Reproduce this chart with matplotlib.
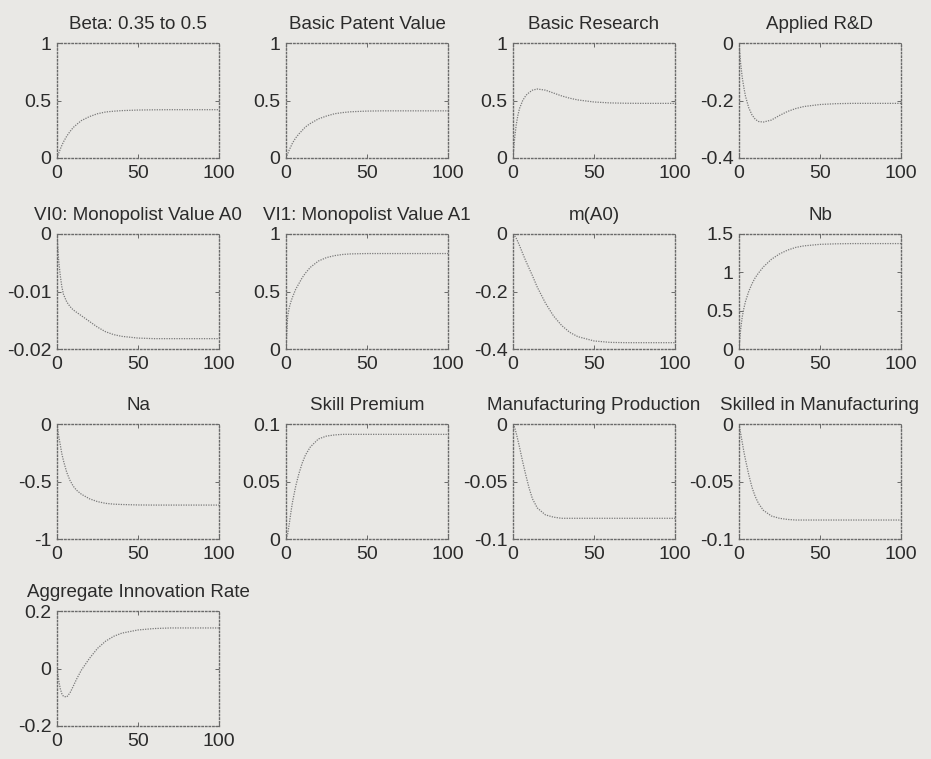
import matplotlib
matplotlib.use("Agg")
import matplotlib.pyplot as plt

plt.rcParams["font.family"] = ["Liberation Sans", "DejaVu Sans"]

# quarters after the shock
t = [0, 1, 2, 3, 4, 6, 8, 10, 12, 15, 20, 25, 30, 35, 40, 50, 60, 70, 80, 90, 100]

beta = [0, 0.04, 0.076, 0.11, 0.14, 0.19, 0.23, 0.265, 0.29, 0.325, 0.36, 0.385,
        0.40, 0.407, 0.412, 0.417, 0.419, 0.42, 0.42, 0.42, 0.42]
patent_value = [0, 0.035, 0.07, 0.10, 0.13, 0.175, 0.21, 0.24, 0.27, 0.30, 0.34, 0.365,
                0.385, 0.395, 0.402, 0.408, 0.41, 0.41, 0.41, 0.41, 0.41]
basic_research = [0, 0.17, 0.29, 0.37, 0.43, 0.50, 0.545, 0.57, 0.59, 0.60, 0.59, 0.565,
                  0.54, 0.52, 0.505, 0.487, 0.479, 0.476, 0.475, 0.475, 0.475]
applied_rd = [0, -0.07, -0.12, -0.155, -0.185, -0.225, -0.25, -0.265, -0.273, -0.275,
              -0.268, -0.252, -0.238, -0.228, -0.221, -0.214, -0.211, -0.21, -0.21, -0.21, -0.21]
vi0 = [0, -0.0045, -0.0072, -0.0092, -0.0105, -0.0118, -0.0126, -0.0132, -0.0136, -0.0142,
       -0.0152, -0.0162, -0.0170, -0.0175, -0.0178, -0.0181, -0.0182, -0.0182, -0.0182,
       -0.0182, -0.0182]
vi1 = [0, 0.28, 0.36, 0.41, 0.45, 0.52, 0.57, 0.62, 0.66, 0.71, 0.765, 0.795, 0.812,
       0.822, 0.827, 0.83, 0.83, 0.83, 0.83, 0.83, 0.83]
m_a0 = [0, -0.006, -0.015, -0.027, -0.04, -0.068, -0.095, -0.12, -0.145, -0.185, -0.24,
        -0.285, -0.318, -0.342, -0.357, -0.372, -0.377, -0.378, -0.378, -0.378, -0.378]
nb = [0, 0.25, 0.42, 0.53, 0.62, 0.75, 0.85, 0.93, 0.99, 1.07, 1.17, 1.24, 1.29, 1.325,
      1.345, 1.365, 1.372, 1.375, 1.375, 1.375, 1.375]
na = [0, -0.1, -0.18, -0.26, -0.32, -0.42, -0.49, -0.54, -0.575, -0.61, -0.65, -0.675,
      -0.69, -0.697, -0.70, -0.704, -0.705, -0.705, -0.705, -0.705, -0.705]
skill_premium = [0, 0.004, 0.013, 0.023, 0.032, 0.046, 0.057, 0.066, 0.073, 0.080, 0.087,
                 0.0895, 0.0905, 0.091, 0.091, 0.091, 0.091, 0.091, 0.091, 0.091, 0.091]
manuf_prod = [0, -0.003, -0.008, -0.014, -0.02, -0.033, -0.045, -0.056, -0.065, -0.073,
              -0.079, -0.081, -0.082, -0.082, -0.082, -0.082, -0.082, -0.082, -0.082,
              -0.082, -0.082]
skilled_manuf = [0, -0.008, -0.016, -0.024, -0.031, -0.044, -0.055, -0.063, -0.069, -0.075,
                 -0.080, -0.082, -0.083, -0.0835, -0.0835, -0.0835, -0.0835, -0.0835,
                 -0.0835, -0.0835, -0.0835]
innovation = [0, -0.04, -0.07, -0.088, -0.097, -0.099, -0.085, -0.062, -0.038, -0.006,
              0.035, 0.07, 0.095, 0.112, 0.123, 0.134, 0.139, 0.141, 0.141, 0.141, 0.141]

panels = [
    ("Beta: 0.35 to 0.5", beta, (0, 1), [0, 0.5, 1], ["0", "0.5", "1"]),
    ("Basic Patent Value", patent_value, (0, 1), [0, 0.5, 1], ["0", "0.5", "1"]),
    ("Basic Research", basic_research, (0, 1), [0, 0.5, 1], ["0", "0.5", "1"]),
    ("Applied R&D", applied_rd, (-0.4, 0), [-0.4, -0.2, 0], ["-0.4", "-0.2", "0"]),
    ("VI0: Monopolist Value A0", vi0, (-0.02, 0), [-0.02, -0.01, 0], ["-0.02", "-0.01", "0"]),
    ("VI1: Monopolist Value A1", vi1, (0, 1), [0, 0.5, 1], ["0", "0.5", "1"]),
    ("m(A0)", m_a0, (-0.4, 0), [-0.4, -0.2, 0], ["-0.4", "-0.2", "0"]),
    ("Nb", nb, (0, 1.5), [0, 0.5, 1, 1.5], ["0", "0.5", "1", "1.5"]),
    ("Na", na, (-1, 0), [-1, -0.5, 0], ["-1", "-0.5", "0"]),
    ("Skill Premium", skill_premium, (0, 0.1), [0, 0.05, 0.1], ["0", "0.05", "0.1"]),
    ("Manufacturing Production", manuf_prod, (-0.1, 0), [-0.1, -0.05, 0], ["-0.1", "-0.05", "0"]),
    ("Skilled in Manufacturing", skilled_manuf, (-0.1, 0), [-0.1, -0.05, 0], ["-0.1", "-0.05", "0"]),
    ("Aggregate Innovation Rate", innovation, (-0.2, 0.2), [-0.2, 0, 0.2], ["-0.2", "0", "0.2"]),
]

paper = "#e9e8e5"
ink = "#2b2b2b"
W, H = 931, 759
col_left = [57, 286, 513, 739]
row_top = [43, 234, 424, 611]
ax_w, ax_h = 162, 115

fig = plt.figure(figsize=(W / 100, H / 100), dpi=100, facecolor=paper)

for i, (title, y, ylim, yticks, ylabels) in enumerate(panels):
    r, c = divmod(i, 4)
    left = col_left[c] / W
    bottom = 1 - (row_top[r] + ax_h) / H
    ax = fig.add_axes([left, bottom, ax_w / W, ax_h / H], facecolor=paper)
    ax.plot(t, y, color="#7a7a7a", linewidth=0.9, linestyle=(0, (1, 1)))
    ax.set_xlim(0, 100)
    ax.set_ylim(*ylim)
    ax.set_xticks([0, 50, 100])
    ax.set_xticklabels(["0", "50", "100"])
    ax.set_yticks(yticks)
    ax.set_yticklabels(ylabels)
    ax.tick_params(direction="in", length=3, width=0.6, colors="#555555",
                   labelcolor=ink, labelsize=14, top=True, right=True)
    ax.tick_params(axis="x", pad=5)
    ax.tick_params(axis="y", pad=4)
    # dotted box around each panel
    for s in ax.spines.values():
        s.set_linestyle((0, (1, 1.6)))
        s.set_linewidth(1.0)
        s.set_color("#6a6a6a")
    ax.set_title(title, fontsize=13.5, color=ink, pad=10)

fig.savefig("out.png", dpi=100, facecolor=paper)
